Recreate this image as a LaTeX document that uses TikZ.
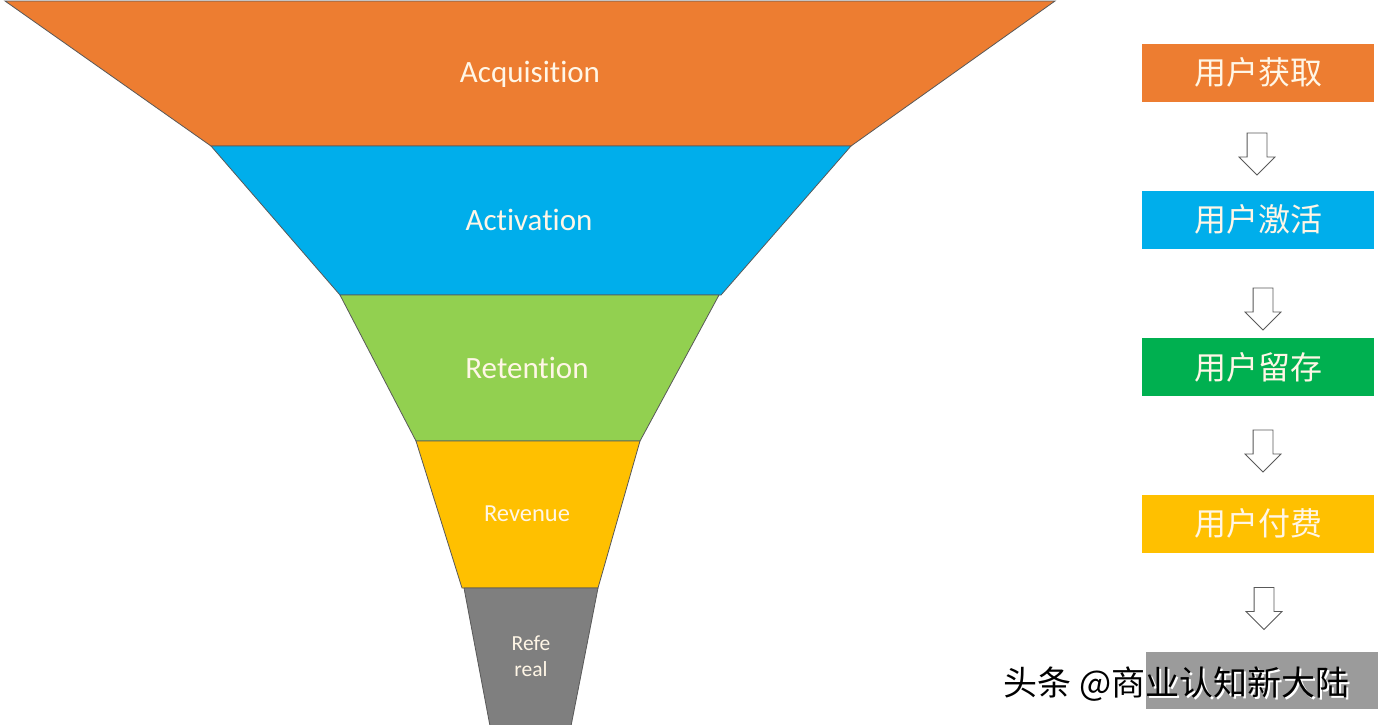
\documentclass[tikz,border=0pt]{standalone}
\usepackage{fontspec}
\setmainfont{Carlito}[Ligatures=NoCommon]
\newfontfamily\cjk{Noto Sans CJK SC}
\usetikzlibrary{shapes.arrows,positioning}
\definecolor{accOrange}{HTML}{ED7D31}
\definecolor{actBlue}{HTML}{00AEEB}
\definecolor{retGreen}{HTML}{92D050}
\definecolor{boxGreen}{HTML}{00B050}
\definecolor{revYellow}{HTML}{FFC000}
\definecolor{refGray}{HTML}{7F7F7F}
\definecolor{markGray}{HTML}{9B9B9B}
\definecolor{labelCream}{HTML}{FFF6E6}
\begin{document}
\begin{tikzpicture}[x=1pt,y=-1pt,
  layer/.style={draw=black!65, line width=0.8pt},
  funnel text/.style={text=labelCream, font=\fontsize{31}{36}\selectfont},
  stage/.style={minimum width=232pt, minimum height=58pt, inner sep=0pt, text=labelCream, font=\cjk\fontsize{32}{38}\selectfont},
  downarrow/.style={single arrow, draw=black!65, fill=white, line width=0.8pt, shape border rotate=270, inner sep=9.5pt, minimum height=42pt, minimum width=35pt, single arrow head extend=8pt}
]
\useasboundingbox[fill=white] (0,0) rectangle (1378,724);

% funnel
\filldraw[layer, fill=accOrange] (5,1) -- (1055,1) -- (851,146) -- (211,146) -- cycle;
\node[funnel text] (acq) at (530,74) {Acquisition};
\filldraw[layer, fill=actBlue] (211,146) -- (851,146) -- (721,295) -- (340,295) -- cycle;
\node[funnel text] (act) at (529,220) {Activation};
\filldraw[layer, fill=retGreen] (340,295) -- (719,295) -- (640,441) -- (416,441) -- cycle;
\node[funnel text] (ret) at (527,368) {Retention};
\filldraw[layer, fill=revYellow] (416,441) -- (640,441) -- (598,588) -- (462,588) -- cycle;
\node[funnel text, font=\fontsize{24.5}{29}\selectfont] (rev) at (527,514) {Revenue};
\filldraw[layer, fill=refGray] (464,588) -- (598,588) -- (571,726) -- (490,726) -- cycle;
\node[funnel text, align=center, font=\fontsize{21.5}{26}\selectfont] (refr) at (531,656) {Refe\\real};

% stages
\node[stage, fill=accOrange] (s1) at (1258,72.5) {用户获取};
\node[stage, fill=actBlue] (s2) at (1258,219.5) {用户激活};
\node[stage, fill=boxGreen] (s3) at (1258,367) {用户留存};
\node[stage, fill=revYellow] (s4) at (1258,523.5) {用户付费};
\node[stage, fill=markGray, minimum height=57pt] (s5) at (1262,680.5) {};

\node[downarrow] (a1) at (1257,149) {};
\node[downarrow] (a2) at (1263,304) {};
\node[downarrow] (a3) at (1263,446) {};
\node[downarrow] (a4) at (1264,603.5) {};

% watermark
\node[anchor=west, text=white, font=\cjk\fontsize{34}{40}\selectfont] (markshadow) at (1002,686) {头条 @商业认知新大陆};
\node[anchor=west, text=black, font=\cjk\fontsize{34}{40}\selectfont] (mark) at (1000,684) {头条 @商业认知新大陆};
\end{tikzpicture}
\end{document}
